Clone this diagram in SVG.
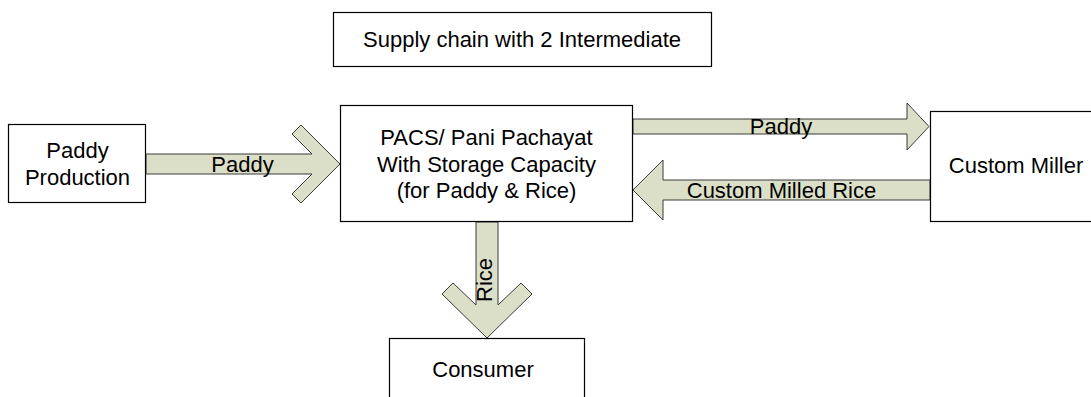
<svg xmlns="http://www.w3.org/2000/svg" width="1091" height="397" viewBox="0 0 1091 397">
  <style>
    .box { fill: #ffffff; stroke: #000000; stroke-width: 1.2; }
    .arrow { fill: #dcdfc8; stroke: #3a3a3a; stroke-width: 1; stroke-linejoin: miter; }
    text { font-family: "Liberation Sans", Arial, sans-serif; font-size: 22px; fill: #000000; text-anchor: middle; }
  </style>
  <rect width="1091" height="397" fill="#ffffff"/>

  <g id="title">
    <rect class="box" x="333.5" y="12.5" width="378" height="54"/>
    <text x="522" y="47">Supply chain with 2 Intermediate</text>
  </g>

  <g id="connectors">
    <g id="edge-production-pacs">
      <polygon class="arrow" points="146,154 312,154 292,134 301,125 340,164 301,203 292,194 312,174 146,174"/>
      <text x="242.5" y="171.5">Paddy</text>
    </g>
    <g id="edge-pacs-miller">
      <polygon class="arrow" points="633,119 907,119 907,103 929,126.5 907,150 907,134 633,134"/>
      <text x="781" y="133.5">Paddy</text>
    </g>
    <g id="edge-miller-pacs">
      <polygon class="arrow" points="930,180 663,180 663,160 633,190 663,220 663,200 930,200"/>
      <text x="781.5" y="198">Custom Milled Rice</text>
    </g>
    <g id="edge-pacs-consumer">
      <polygon class="arrow" points="476,222 498,222 498,305 521,283 532,294 487,338 442,294 453,283 476,305"/>
      <text transform="translate(491.5,280) rotate(-90)" x="0" y="0">Rice</text>
    </g>
  </g>

  <g id="paddy-production">
    <rect class="box" x="8.5" y="124.5" width="137" height="78"/>
    <text x="77.5" y="158">Paddy</text>
    <text x="77.5" y="185">Production</text>
  </g>

  <g id="pacs">
    <rect class="box" x="340.5" y="105.5" width="292" height="116"/>
    <text x="486.5" y="144.5">PACS/ Pani Pachayat</text>
    <text x="486.5" y="171.5">With Storage Capacity</text>
    <text x="486.5" y="197.5">(for Paddy &amp; Rice)</text>
  </g>

  <g id="custom-miller">
    <rect class="box" x="930.5" y="111.5" width="170" height="110"/>
    <text x="1016" y="172.5">Custom Miller</text>
  </g>

  <g id="consumer">
    <rect class="box" x="389.5" y="338.5" width="195" height="70"/>
    <text x="483" y="377">Consumer</text>
  </g>
</svg>
